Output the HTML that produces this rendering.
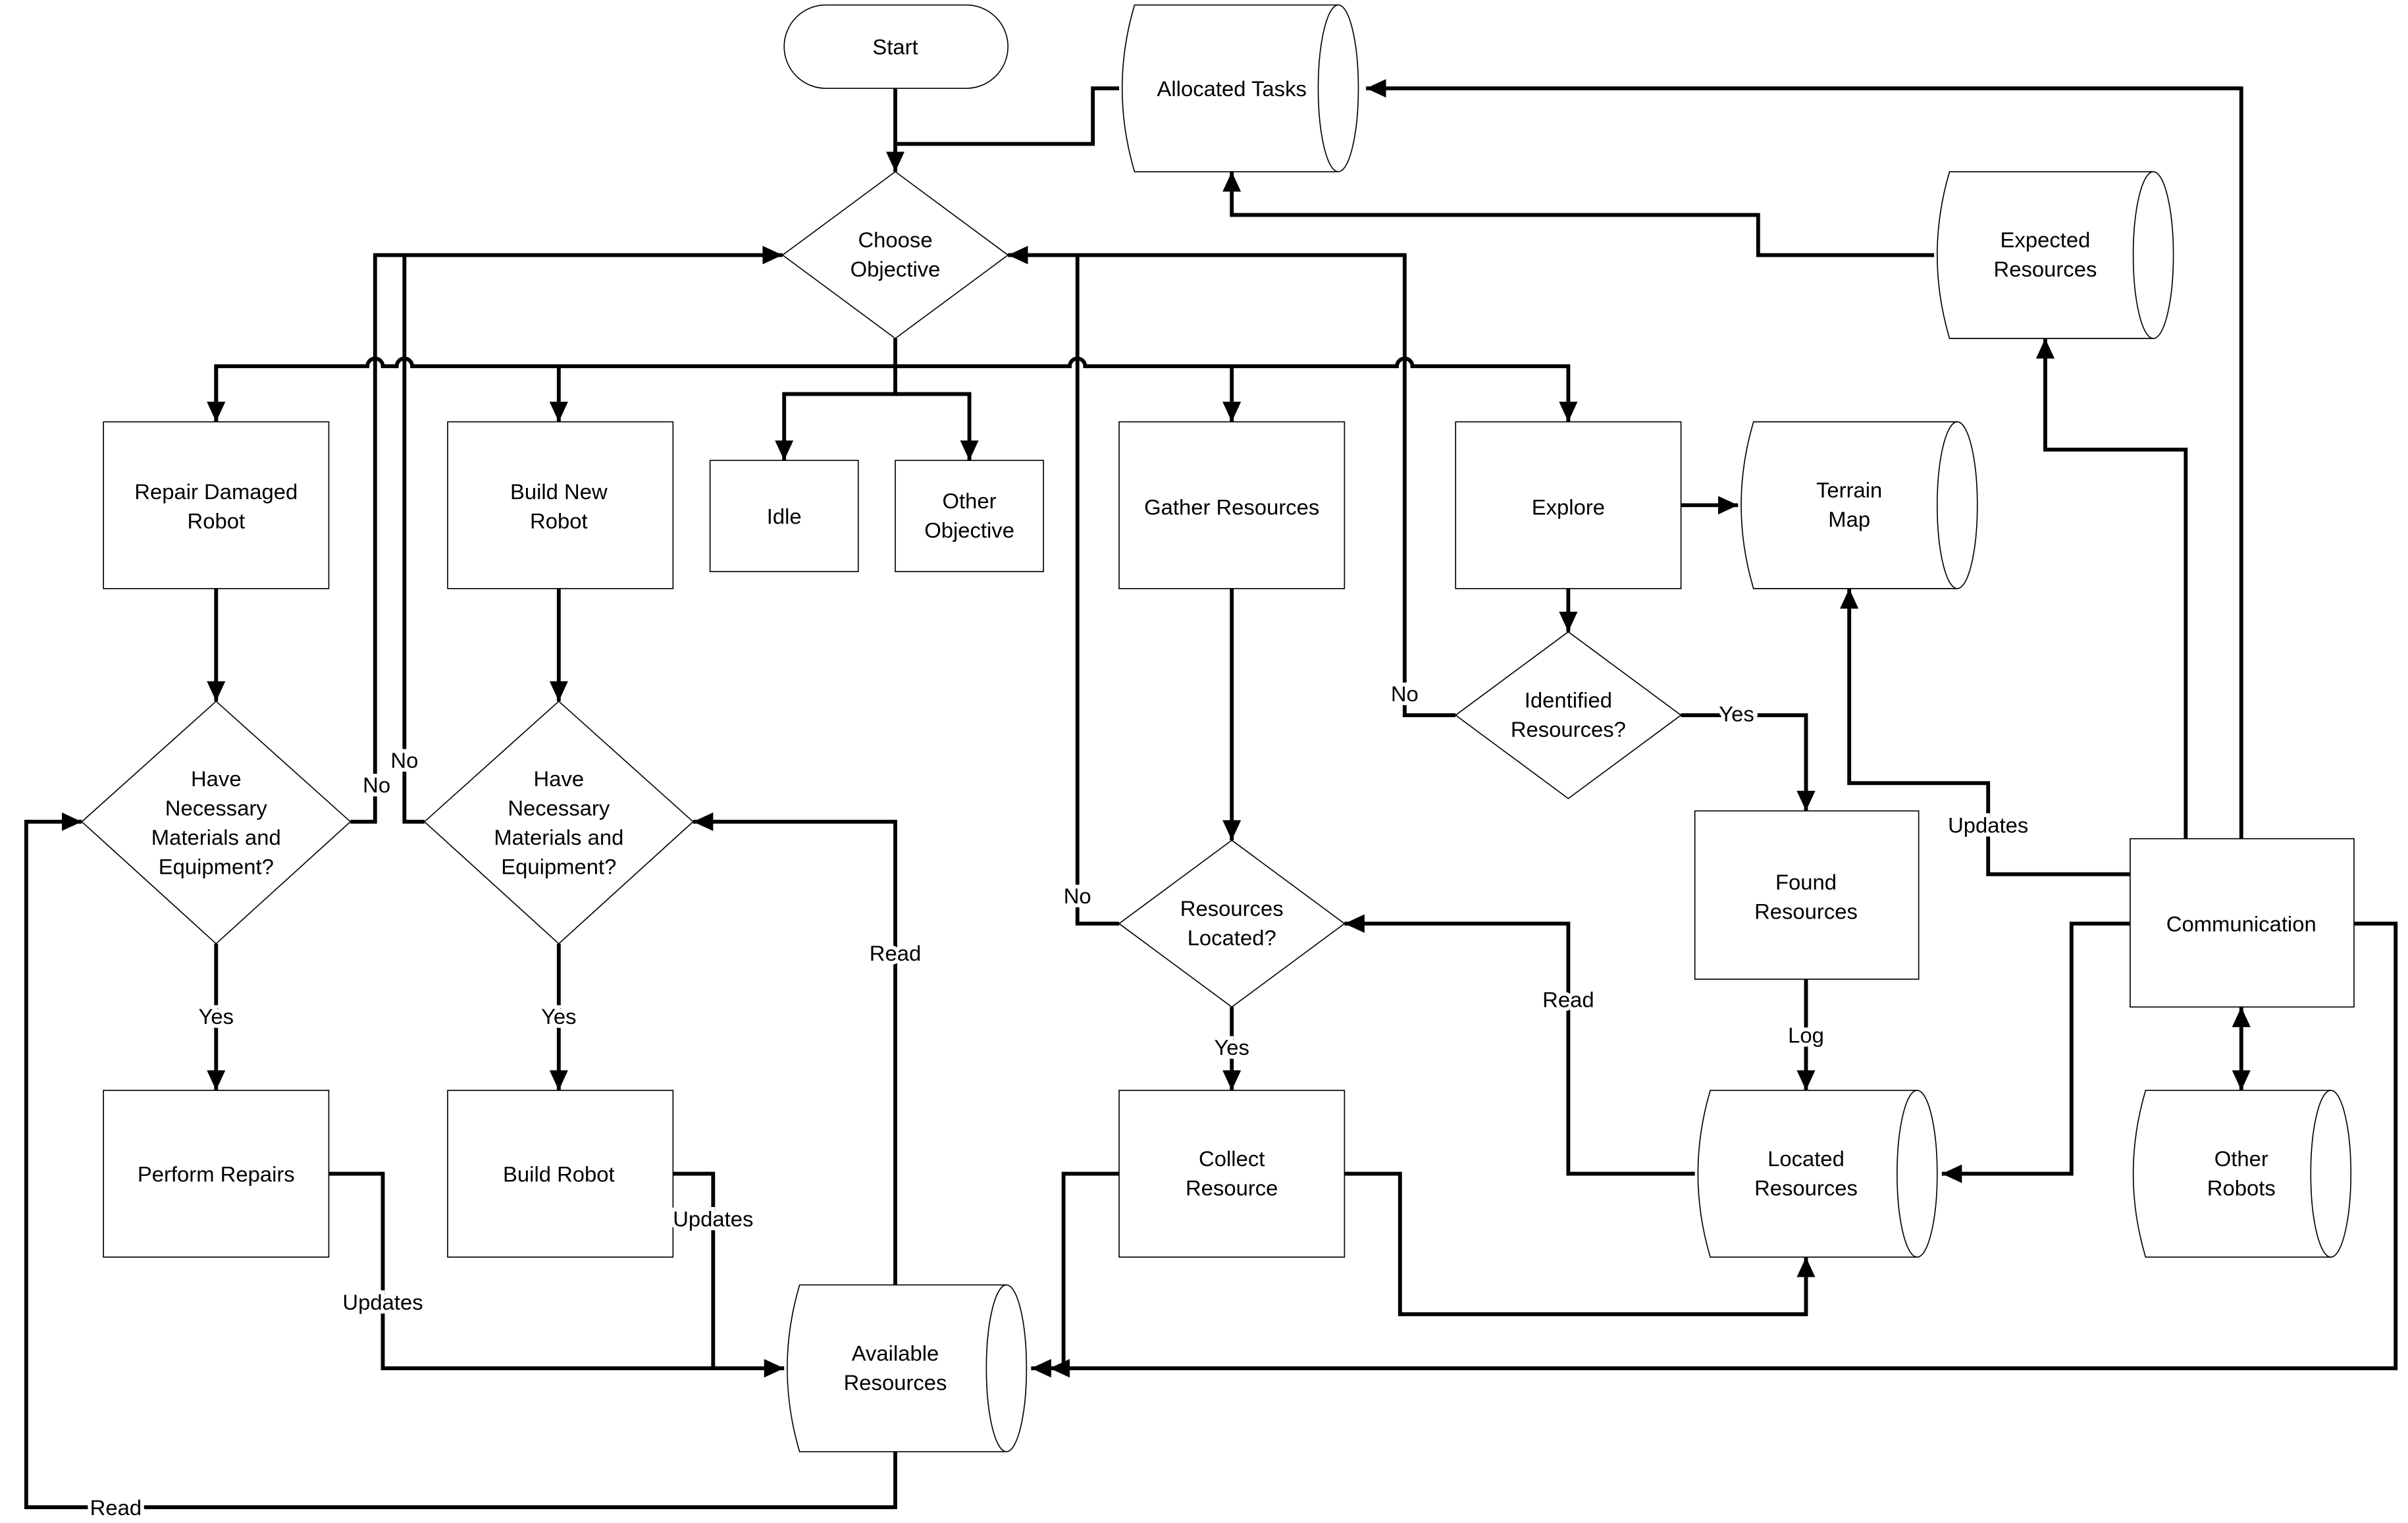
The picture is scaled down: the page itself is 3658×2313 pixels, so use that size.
<!DOCTYPE html>
<html><head><meta charset="utf-8"><style>
html,body{margin:0;padding:0;background:#fff;}
svg{display:block;}
text{font-family:"Liberation Sans",sans-serif;font-size:14px;fill:#000;text-anchor:middle;}
.s{fill:#fff;stroke:#000;stroke-width:0.7;}
.c{fill:none;stroke:#000;stroke-width:2.5;stroke-linejoin:miter;}
.l{paint-order:stroke;stroke:#fff;stroke-width:5px;}
</style></head><body>
<svg width="3658" height="2313" viewBox="0 0 1560 986" xmlns="http://www.w3.org/2000/svg">
<defs>
<marker id="a" markerUnits="userSpaceOnUse" markerWidth="14" markerHeight="12" refX="13" refY="6" orient="auto">
<path d="M0,0 L13,6 L0,12 Z" fill="#000"/></marker>
<marker id="b" markerUnits="userSpaceOnUse" markerWidth="14" markerHeight="12" refX="1" refY="6" orient="auto">
<path d="M14,0 L1,6 L14,12 Z" fill="#000"/></marker>
</defs>

<!-- Shapes -->
<rect class="s" x="508" y="3" width="145" height="54" rx="27"/>
<text x="580" y="35">Start</text>

<!-- cylinders -->
<g class="s">
<path d="M735,3 H867 A13,54 0 0 1 867,111 H735 Q719,57 735,3 Z"/><path d="M867,3 A13,54 0 0 0 867,111" fill="none"/>
<path d="M1263,111 H1395 A13,54 0 0 1 1395,219 H1263 Q1247,165 1263,111 Z"/><path d="M1395,111 A13,54 0 0 0 1395,219" fill="none"/>
<path d="M1136,273 H1268 A13,54 0 0 1 1268,381 H1136 Q1120,327 1136,273 Z"/><path d="M1268,273 A13,54 0 0 0 1268,381" fill="none"/>
<path d="M1108,706 H1242 A13,54 0 0 1 1242,814 H1108 Q1092,760 1108,706 Z"/><path d="M1242,706 A13,54 0 0 0 1242,814" fill="none"/>
<path d="M1390,706 H1510 A13,54 0 0 1 1510,814 H1390 Q1374,760 1390,706 Z"/><path d="M1510,706 A13,54 0 0 0 1510,814" fill="none"/>
<path d="M518,832 H652 A13,54 0 0 1 652,940 H518 Q502,886 518,832 Z"/><path d="M652,832 A13,54 0 0 0 652,940" fill="none"/>
</g>
<text x="798" y="62">Allocated Tasks</text>
<text x="1325" y="160">Expected</text><text x="1325" y="179">Resources</text>
<text x="1198" y="322">Terrain</text><text x="1198" y="341">Map</text>
<text x="1170" y="755">Located</text><text x="1170" y="774">Resources</text>
<text x="1452" y="755">Other</text><text x="1452" y="774">Robots</text>
<text x="580" y="881">Available</text><text x="580" y="900">Resources</text>

<!-- rects -->
<g class="s">
<rect x="67" y="273" width="146" height="108"/>
<rect x="290" y="273" width="146" height="108"/>
<rect x="460" y="298" width="96" height="72"/>
<rect x="580" y="298" width="96" height="72"/>
<rect x="725" y="273" width="146" height="108"/>
<rect x="943" y="273" width="146" height="108"/>
<rect x="1098" y="525" width="145" height="109"/>
<rect x="1380" y="543" width="145" height="109"/>
<rect x="67" y="706" width="146" height="108"/>
<rect x="290" y="706" width="146" height="108"/>
<rect x="725" y="706" width="146" height="108"/>
</g>
<text x="140" y="323">Repair Damaged</text><text x="140" y="342">Robot</text>
<text x="362" y="323">Build New</text><text x="362" y="342">Robot</text>
<text x="508" y="339">Idle</text>
<text x="628" y="329">Other</text><text x="628" y="348">Objective</text>
<text x="798" y="333">Gather Resources</text>
<text x="1016" y="333">Explore</text>
<text x="1170" y="576">Found</text><text x="1170" y="595">Resources</text>
<text x="1452" y="603">Communication</text>
<text x="140" y="765">Perform Repairs</text>
<text x="362" y="765">Build Robot</text>
<text x="798" y="755">Collect</text><text x="798" y="774">Resource</text>

<!-- diamonds -->
<g class="s">
<path d="M580,111 L653,165 L580,219 L507,165 Z"/>
<path d="M140,454 L227,532 L140,611 L53,532 Z"/>
<path d="M362,454 L449,532 L362,611 L275,532 Z"/>
<path d="M1016,409 L1089,463 L1016,517 L943,463 Z"/>
<path d="M798,544 L871,598 L798,652 L725,598 Z"/>
</g>
<text x="580" y="160">Choose</text><text x="580" y="179">Objective</text>
<text x="140" y="509">Have</text><text x="140" y="528">Necessary</text><text x="140" y="547">Materials and</text><text x="140" y="566">Equipment?</text>
<text x="362" y="509">Have</text><text x="362" y="528">Necessary</text><text x="362" y="547">Materials and</text><text x="362" y="566">Equipment?</text>
<text x="1016" y="458">Identified</text><text x="1016" y="477">Resources?</text>
<text x="798" y="593">Resources</text><text x="798" y="612">Located?</text>

<!-- Connectors -->
<g class="c">
<path d="M580,57 V111" marker-end="url(#a)"/>
<path d="M725,57 H708 V93 H580"/>
<path d="M580,219 V237"/>
<path d="M140,273 V237 H238 a5,5 0 0 1 10,0 H257 a5,5 0 0 1 10,0 H693 a5,5 0 0 1 10,0 H905 a5,5 0 0 1 10,0 H1016 V273" marker-end="url(#a)"/>
<path d="M140,237 V273" marker-end="url(#a)"/>
<path d="M362,237 V273" marker-end="url(#a)"/>
<path d="M798,237 V273" marker-end="url(#a)"/>
<path d="M580,237 V255 H508 V298" marker-end="url(#a)"/>
<path d="M580,255 H628 V298" marker-end="url(#a)"/>
<path d="M227,532 H243 V165 H507" marker-end="url(#a)"/>
<path d="M275,532 H262 V165"/>
<path d="M140,381 V454" marker-end="url(#a)"/>
<path d="M362,381 V454" marker-end="url(#a)"/>
<path d="M140,611 V706" marker-end="url(#a)"/>
<path d="M362,611 V706" marker-end="url(#a)"/>
<path d="M213,760 H248 V886 H508" marker-end="url(#a)"/>
<path d="M436,760 H462 V886"/>
<path d="M580,832 V532 H449" marker-end="url(#a)"/>
<path d="M580,940 V976 H17 V532 H53" marker-end="url(#a)"/>
<path d="M798,381 V544" marker-end="url(#a)"/>
<path d="M725,598 H698 V165 H653" marker-end="url(#a)"/>
<path d="M943,463 H910 V165 H698"/>
<path d="M798,652 V706" marker-end="url(#a)"/>
<path d="M725,760 H689 V886 H668" marker-end="url(#a)"/>
<path d="M871,760 H907 V851 H1170 V814" marker-end="url(#a)"/>
<path d="M1089,327 H1126" marker-end="url(#a)"/>
<path d="M1016,381 V409" marker-end="url(#a)"/>
<path d="M1089,463 H1170 V525" marker-end="url(#a)"/>
<path d="M1170,634 V706" marker-end="url(#a)"/>
<path d="M1098,760 H1016 V598 H871" marker-end="url(#a)"/>
<path d="M1380,598 H1342 V760 H1258" marker-end="url(#a)"/>
<path d="M1525,598 H1552 V886 H680" marker-end="url(#a)"/>
<path d="M1416,543 V291 H1325 V219" marker-end="url(#a)"/>
<path d="M1452,543 V57 H885" marker-end="url(#a)"/>
<path d="M1380,566 H1288 V507 H1198 V381" marker-end="url(#a)"/>
<path d="M1253,165 H1139 V139 H798 V111" marker-end="url(#a)"/>
<path d="M1452,652 V706" marker-start="url(#b)" marker-end="url(#a)"/>
</g>

<!-- Labels -->
<text class="l" x="244" y="513">No</text>
<text class="l" x="262" y="497">No</text>
<text class="l" x="140" y="663">Yes</text>
<text class="l" x="362" y="663">Yes</text>
<text class="l" x="248" y="848">Updates</text>
<text class="l" x="462" y="794">Updates</text>
<text class="l" x="580" y="622">Read</text>
<text class="l" x="75" y="981">Read</text>
<text class="l" x="698" y="585">No</text>
<text class="l" x="910" y="454">No</text>
<text class="l" x="798" y="683">Yes</text>
<text class="l" x="1125" y="467">Yes</text>
<text class="l" x="1170" y="675">Log</text>
<text class="l" x="1016" y="652">Read</text>
<text class="l" x="1288" y="539">Updates</text>
</svg>
</body></html>
